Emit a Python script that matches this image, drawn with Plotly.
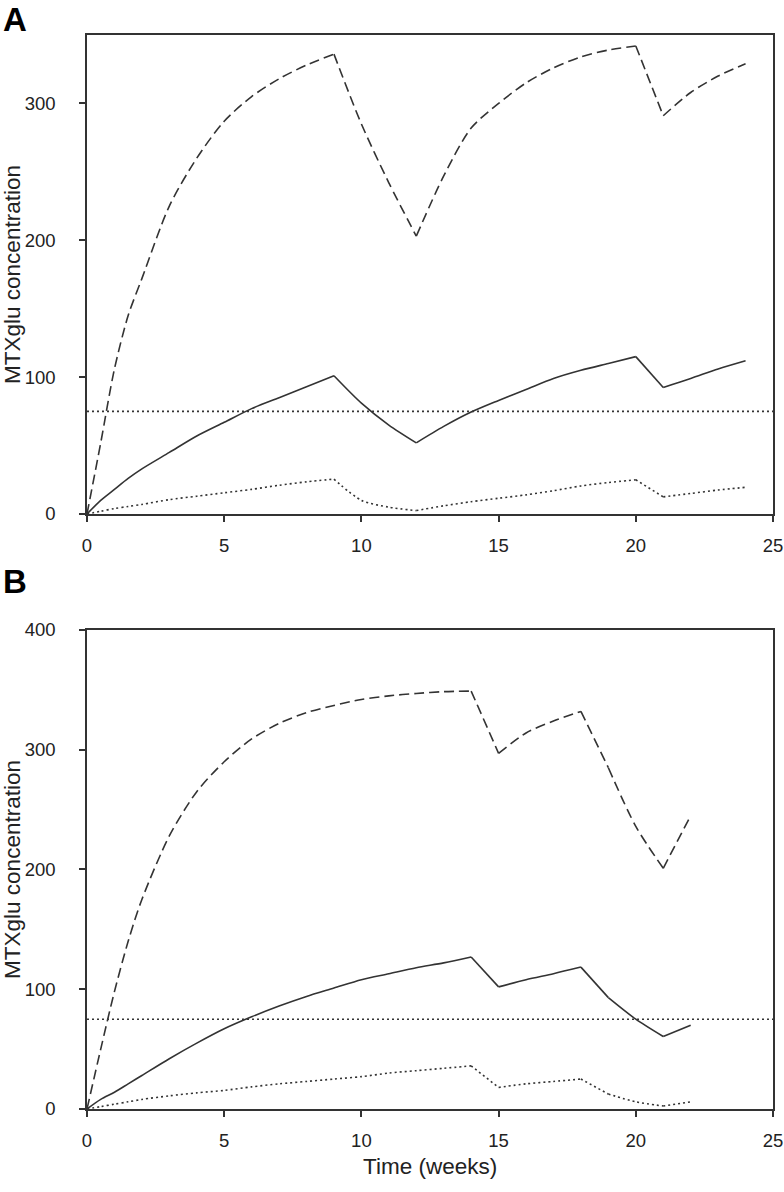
import plotly.graph_objects as go
from plotly.subplots import make_subplots

# ---------------- data ----------------
weeks_A = [0, 0.5, 1, 1.5, 2, 3, 4, 5, 6, 7, 8, 9, 10, 11, 12, 13, 14, 15, 16, 17, 18, 19, 20, 21, 22, 23, 24]
high_A = [0, 52, 106, 145, 172, 225, 260, 287, 305, 318, 328, 336, 285, 242, 203, 247, 282, 300, 315, 326, 334, 339, 342, 291, 308, 320, 329]
mid_A = [0, 10, 18, 26, 33, 45, 57, 67, 77, 85, 93, 101, 81, 65, 52, 64, 74.5, 83, 91, 99, 105, 110, 115, 92.5, 99, 106, 112]
low_A = [0, 2, 4, 5.5, 7, 10.5, 13, 15.5, 18, 21, 23.5, 25.5, 10, 5, 2.5, 6, 9, 11.5, 14, 17, 20.5, 23, 25, 12.5, 15, 17.5, 19.5]
kinks_A = [9, 12, 20, 21]

weeks_B = [0, 0.5, 1, 1.5, 2, 3, 4, 5, 6, 7, 8, 9, 10, 11, 12, 13, 14, 15, 16, 17, 18, 19, 20, 21, 22]
high_B = [0, 50, 98, 140, 175, 228, 265, 290, 309, 322, 331, 337, 342, 345, 347, 348.5, 349, 297, 314, 324, 332, 285, 236, 201, 245]
mid_B = [0, 8, 14, 21, 28, 42, 55, 67, 77, 86, 94, 101, 108, 113, 118, 122, 127, 102, 108, 113, 118.5, 93, 75, 60.5, 70]
low_B = [0, 2, 4, 6, 8, 11, 13.5, 15.5, 18.5, 21, 23, 25, 27, 30, 32, 34, 36, 18, 21, 23, 25, 12.5, 6, 2.5, 6]
kinks_B = [14, 15, 18, 19, 21]

threshold = 75
x_ticks = [0, 5, 10, 15, 20, 25]
y_ticks_A = [0, 100, 200, 300]
y_ticks_B = [0, 100, 200, 300, 400]
panel_labels = ["A", "B"]
y_title = "MTXglu concentration"
x_title = "Time (weeks)"

# ---------------- styling ----------------
INK = "#333333"
TXT = "#222222"
FONT = "Arial, Liberation Sans, sans-serif"
DASH = "10px,5px"
DOT = "2px,3px"
LW = 1.6

fig = make_subplots(rows=2, cols=1, vertical_spacing=0.108)


def segments(t, v, kinks):
    """Split a series at dosing-change weeks so each piece is smoothed separately."""
    cuts = [t[0]] + list(kinks) + [t[-1]]
    out = []
    for a, b in zip(cuts[:-1], cuts[1:]):
        idx = [i for i, tt in enumerate(t) if a <= tt <= b]
        out.append(([t[i] for i in idx], [v[i] for i in idx]))
    return out


def add_series(row, t, v, kinks, dash):
    for xs, ys in segments(t, v, kinks):
        fig.add_trace(go.Scatter(x=xs, y=ys, mode="lines",
                                 line=dict(color=INK, width=LW, dash=dash, shape="spline", smoothing=0.8),
                                 showlegend=False, hoverinfo="skip"), row=row, col=1)


def add_panel(row, t, hi, mi, lo, kinks):
    add_series(row, t, hi, kinks, DASH)
    add_series(row, t, mi, kinks, "solid")
    add_series(row, t, lo, kinks, DOT)
    fig.add_hline(y=threshold, line=dict(color=INK, width=LW, dash=DOT), row=row, col=1)


add_panel(1, weeks_A, high_A, mid_A, low_A, kinks_A)
add_panel(2, weeks_B, high_B, mid_B, low_B, kinks_B)

axis_common = dict(showline=True, linecolor=INK, linewidth=1.6, mirror=True,
                   ticks="outside", ticklen=6, tickwidth=1.6, tickcolor=INK,
                   showgrid=False, zeroline=False, automargin=False,
                   ticklabeloverflow="allow",
                   tickfont=dict(family=FONT, size=18.5, color=TXT))

for r in (1, 2):
    fig.update_xaxes(range=[0, 25], tickvals=x_ticks, row=r, col=1, ticklabelstandoff=8, **axis_common)

fig.update_yaxes(range=[0, 350], tickvals=y_ticks_A, row=1, col=1, ticklabelstandoff=20,
                 title=dict(text=y_title, font=dict(family=FONT, size=22.5, color=TXT), standoff=8),
                 **axis_common)
fig.update_yaxes(range=[0, 400], tickvals=y_ticks_B, row=2, col=1, ticklabelstandoff=20,
                 title=dict(text=y_title, font=dict(family=FONT, size=22.5, color=TXT), standoff=8),
                 **axis_common)

fig.update_layout(
    width=784, height=1192,
    margin=dict(l=87, r=11, t=35, b=83),
    plot_bgcolor="white", paper_bgcolor="white",
    font=dict(family=FONT, color=TXT),
)
fig.layout.yaxis.domain = [0.554, 1.0]
fig.layout.yaxis2.domain = [0.0, 0.446]

# shared x-axis title below panel B
fig.add_annotation(text=x_title, xref="paper", yref="paper", x=0.5, y=-57 / 1074,
                   xanchor="center", yanchor="middle", showarrow=False,
                   font=dict(family=FONT, size=22.5, color=TXT))

fig.add_annotation(text="<b>" + panel_labels[0] + "</b>", xref="paper", yref="paper", x=-0.126, y=1.0 + 36 / 1074,
                   xanchor="left", yanchor="top", showarrow=False,
                   font=dict(family=FONT, size=33, color="#000000"))
fig.add_annotation(text="<b>" + panel_labels[1] + "</b>", xref="paper", yref="paper", x=-0.126, y=1.0 - 526 / 1074,
                   xanchor="left", yanchor="top", showarrow=False,
                   font=dict(family=FONT, size=33, color="#000000"))

# remove the browser's default 8px page margin so the figure sits at the window origin
fig.write_html("out.html", config={"displayModeBar": False},
               post_script="document.body.style.margin='0';")
